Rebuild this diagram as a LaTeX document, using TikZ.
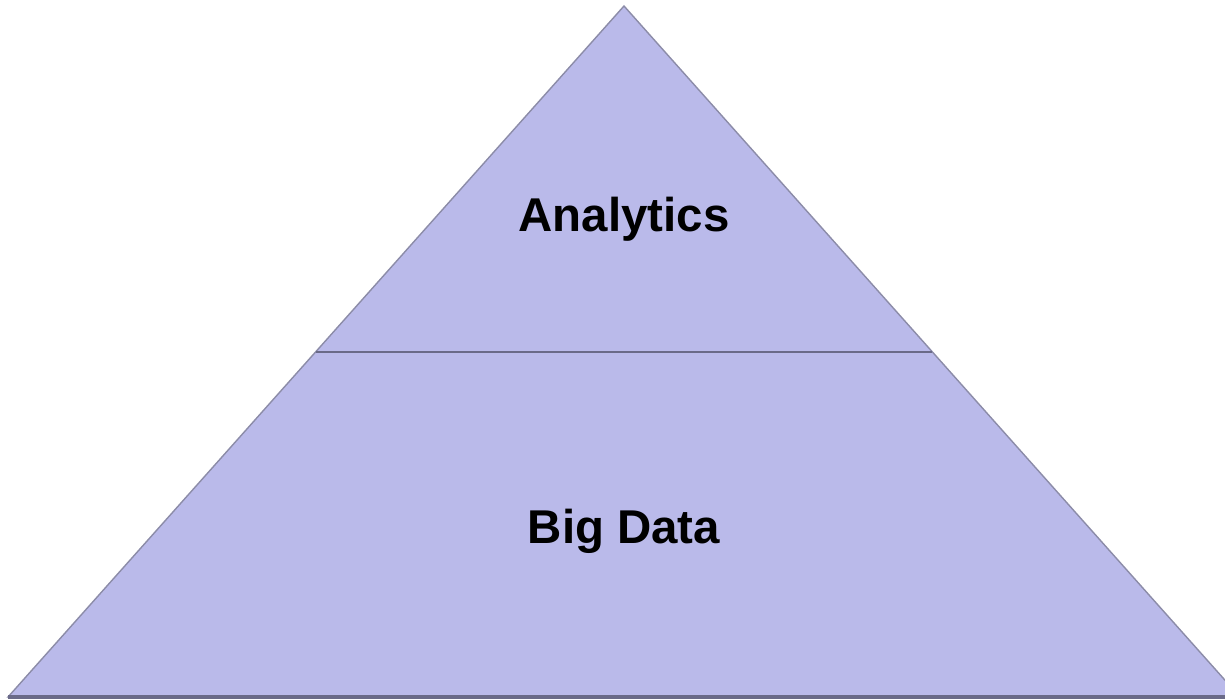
\documentclass[tikz,border=0pt]{standalone}
\usepackage{fontspec}
\setmainfont{Liberation Sans}
\usepackage{tikz}
\definecolor{pyrfill}{HTML}{BABAEA}
\definecolor{pyredge}{HTML}{8C8CA8}
\definecolor{pyrline}{HTML}{6A6A88}
\tikzset{level/.style={font=\fontsize{27}{32}\selectfont\bfseries}}
\begin{document}
\begin{tikzpicture}[x=0.02cm,y=-0.02cm]
	\useasboundingbox (0,0) rectangle (1225,700);
	\begin{scope}[fill opacity = 1]
    \fill[pyrfill, draw = pyredge, line width = 0.8pt] (8,697) -- (624,6) -- (1240,697) -- cycle;
%% the dividing line and the base get a darker edge
    \coordinate (midleft) at (316,352);
    \coordinate (midright) at (932,352);
    \draw[pyrline, line width = 1.5pt] (midleft) -- (midright);
    \coordinate (baseleft) at (8,697);
    \coordinate (baseright) at (1240,697);
    \draw[pyrline, line width = 2.5pt] (baseleft) -- (baseright);
    \node[level] (top) at (624,219) {Analytics};
    \node[level] (bottom) at (624,531) {Big Data};
    \end{scope}
\end{tikzpicture}
\end{document}
